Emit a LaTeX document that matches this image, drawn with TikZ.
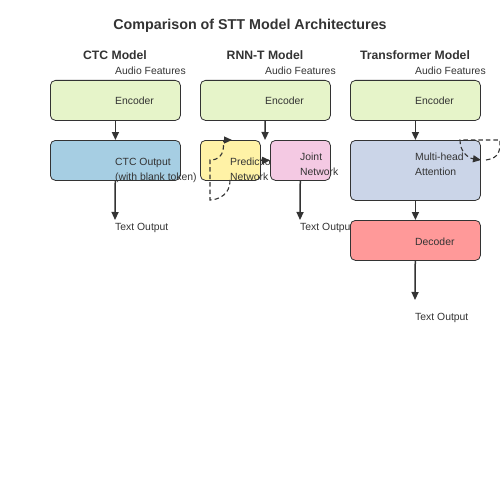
\documentclass[tikz,border=0pt]{standalone}
\usepackage{fontspec}
\setmainfont{Liberation Sans}
\usetikzlibrary{arrows.meta}

\definecolor{ink}{HTML}{333333}
\definecolor{encgreen}{HTML}{E6F4C9}
\definecolor{ctcblue}{HTML}{A6CEE3}
\definecolor{predyellow}{HTML}{FFF2A6}
\definecolor{jointpink}{HTML}{F4C9E3}
\definecolor{attnblue}{HTML}{CBD5E8}
\definecolor{decred}{HTML}{FF9999}

\begin{document}
\begin{tikzpicture}[x=1pt, y=-1pt,
    box/.style={draw=ink, line width=0.8pt, rounded corners=5pt, anchor=north west, inner sep=0pt},
    lbl/.style={anchor=base west, inner sep=0pt, text=ink, font=\fontsize{10.4}{12}\selectfont},
    head/.style={anchor=base, inner sep=0pt, text=ink, font=\fontsize{12.2}{14}\selectfont\bfseries},
    flow/.style={draw=ink, line width=1.5pt, -{Triangle[length=8pt,width=7pt]}},
    loop/.style={draw=ink, line width=1.1pt, dash pattern=on 4.5pt off 3pt}]

\useasboundingbox (0,0) rectangle (500,500);

% title
\node[head, font=\fontsize{14.3}{16}\selectfont\bfseries] (title) at (250,30) {Comparison of STT Model Architectures};

% column headings
\foreach \x/\name/\txt in {115/ctchead/CTC Model, 265/rnnhead/RNN-T Model, 415/trfhead/Transformer Model}
{
    \node[head] (\name) at (\x,60) {\txt};
    \node[lbl] (\name in) at (\x,75) {Audio Features};
}

% CTC model
\node[box, fill=encgreen, minimum width=130pt, minimum height=40pt] (ctcenc) at (50,80) {};
\node[lbl] (ctcenclbl) at (115,105) {Encoder};
\node[box, fill=ctcblue, minimum width=130pt, minimum height=40pt] (ctcout) at (50,140) {};
\node[lbl] (ctcoutlbl) at (115,165) {CTC Output};
\node[lbl] (ctcblank) at (115,180) {(with blank token)};
\node[lbl] (ctctxt) at (115,230) {Text Output};
\coordinate (ctcend) at (115,220);
\draw[flow] (ctcenc) -- (ctcout);
\draw[flow] (ctcout) -- (ctcend);

% RNN-T model
\node[box, fill=encgreen, minimum width=130pt, minimum height=40pt] (rnnenc) at (200,80) {};
\node[lbl] (rnnenclbl) at (265,105) {Encoder};
\coordinate (rnnmerge) at (265,140);
\draw[flow] (rnnenc) -- (rnnmerge);
\node[box, fill=predyellow, minimum width=60pt, minimum height=40pt] (pred) at (200,140) {};
\node[lbl] (predlbl) at (230,165) {Prediction};
\node[lbl] (prednet) at (230,180) {Network};
\node[box, fill=jointpink, minimum width=60pt, minimum height=40pt] (joint) at (270,140) {};
\node[lbl] (jointlbl) at (300,160) {Joint};
\node[lbl] (jointnet) at (300,175) {Network};
\draw[flow] (pred) -- (joint);
\node[lbl] (rnntxt) at (300,230) {Text Output};
\coordinate (rnnend) at (300,220);
\draw[flow] (joint) -- (rnnend);

% feedback into the prediction network
\draw[loop, -{Triangle[length=8pt,width=7pt]}] (230,180) .. controls (230,200) and (210,200) .. (210,200)
    -- (210,160) .. controls (228,160) and (222,140) .. (232,140);

% Transformer model
\node[box, fill=encgreen, minimum width=130pt, minimum height=40pt] (trfenc) at (350,80) {};
\node[lbl] (trfenclbl) at (415,105) {Encoder};
\node[box, fill=attnblue, minimum width=130pt, minimum height=60pt] (mha) at (350,140) {};
\node[lbl] (mhalbl) at (415,160) {Multi-head};
\node[lbl] (mhaatt) at (415,175) {Attention};
\node[box, fill=decred, minimum width=130pt, minimum height=40pt] (dec) at (350,220) {};
\node[lbl] (declbl) at (415,245) {Decoder};
\node[lbl] (trftxt) at (415,320) {Text Output};
\coordinate (trfend) at (415,300);
\draw[flow] (trfenc) -- (mha);
\draw[flow] (mha) -- (dec);
\draw[flow] (dec) -- (trfend);

% self-attention loop
\draw[loop, -{Triangle[length=8pt,width=7pt]}] (486,160) .. controls (500,158) and (500,150) .. (500,140)
    -- (460,140) .. controls (460,152) and (468,158) .. (481,160);

\end{tikzpicture}
\end{document}
